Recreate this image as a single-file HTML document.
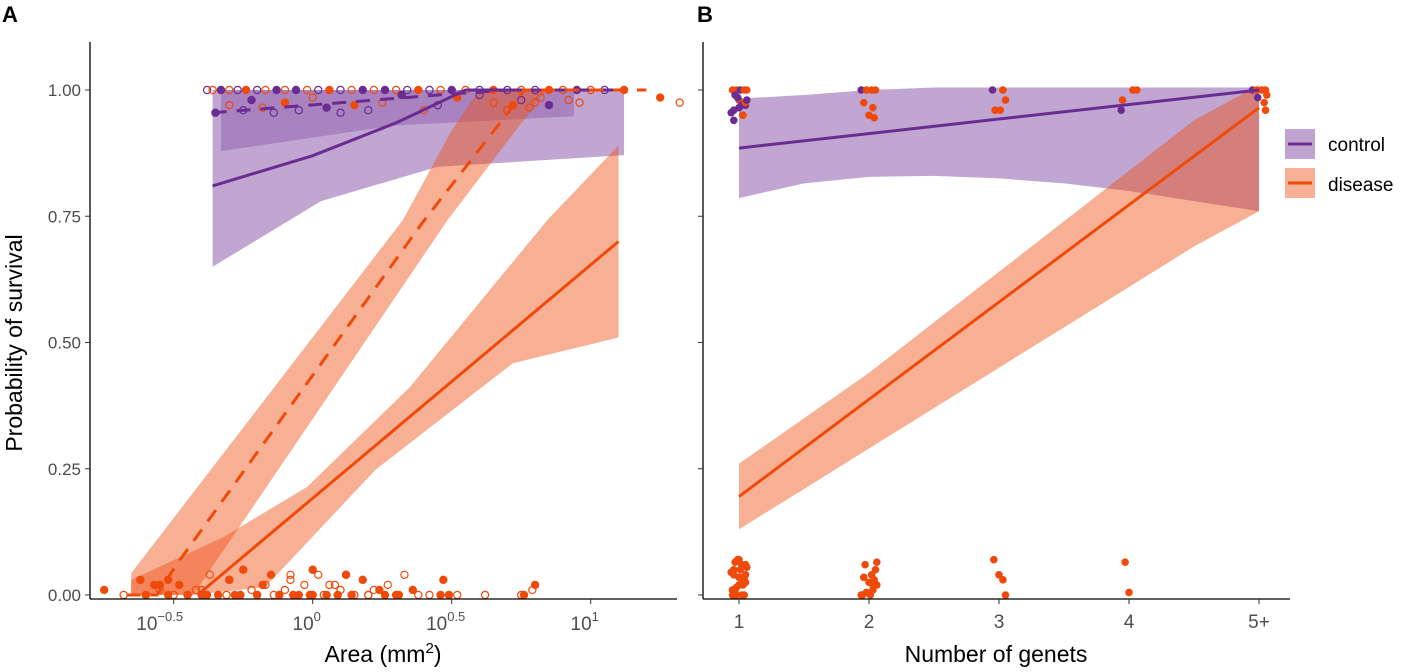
<!DOCTYPE html>
<html><head><meta charset="utf-8"><style>
body{margin:0;background:#fff}
svg{display:block;font-family:"Liberation Sans",Arial,sans-serif}
</style></head><body>
<svg id="chart" width="1413" height="672" viewBox="0 0 1413 672">
<text x="2" y="22" font-size="22" font-weight="bold">A</text>
<text x="697" y="22" font-size="22" font-weight="bold">B</text>
<g id="pa"></g>
<g id="pb"></g>
<text transform="translate(22,343) rotate(-90)" text-anchor="middle" font-size="23">Probability of survival</text>
<text x="383" y="662" text-anchor="middle" font-size="23">Area (mm<tspan dy="-9" font-size="15">2</tspan><tspan dy="9">)</tspan></text>
<text x="996" y="662" text-anchor="middle" font-size="23">Number of genets</text>
<g>
 <rect x="1285" y="129" width="30" height="30" fill="#c0a4d0"/>
 <line x1="1288" y1="144" x2="1312" y2="144" stroke="#6a2c91" stroke-width="3"/>
 <text x="1328" y="151" font-size="19">control</text>
 <rect x="1285" y="168" width="30" height="30" fill="#f7b096"/>
 <line x1="1288" y1="183" x2="1312" y2="183" stroke="#f04a0a" stroke-width="3"/>
 <text x="1328" y="191" font-size="19">disease</text>
</g>
</svg>
<script>
// ---------- data ----------
const yTicks=[0,0.25,0.5,0.75,1];
const yTickLabels=["0.00","0.25","0.50","0.75","1.00"];
const aTicks=[-0.5,0,0.5,1];
const aTickExp=["\u22120.5","0","0.5","1"];
const bCategories=[1,2,3,4,5];
const bTickLabels=["1","2","3","4","5+"];
// Panel A fitted curves (log10 area, prob)
const aCtrlSolidX=[-0.36,0.0,0.3,0.55,1.12];
const aCtrlSolidY=[0.81,0.87,0.935,1.0,1.0];
const aCtrlBandX=[-0.36,0.03,0.45,1.12];
const aCtrlBandLo=[0.65,0.78,0.848,0.871];
const aCtrlBandHi=[1.0,1.0,1.0,1.0];
const aCtrlDashX=[-0.36,0.45,0.7];
const aCtrlDashY=[0.955,0.99,1.0];
const aCtrlDashBandX=[-0.33,0.3,0.94];
const aCtrlDashLo=[0.879,0.93,0.948];
const aCtrlDashHi=[1.0,1.0,1.0];
const aDisDashX=[-0.67,-0.56,-0.49,0.393,0.695,0.76,1.2];
const aDisDashY=[0,0,0.06,0.736,0.95,1.0,1.0];
const aDisDashUpX=[-0.653,-0.653,0.325,0.5,0.6];
const aDisDashUpY=[0,0.043,0.743,0.92,1.0];
const aDisDashLoX=[-0.43,0.486,0.8,0.84];
const aDisDashLoY=[0,0.743,0.97,1.0];
const aDisSolidX=[-0.406,1.10];
const aDisSolidY=[0.004,0.70];
const aDisSolidUpX=[-0.653,-0.653,-0.32,-0.02,0.35,0.845,1.10];
const aDisSolidUpY=[0,0.03,0.115,0.214,0.412,0.743,0.89];
const aDisSolidLoX=[-0.43,-0.17,0.226,0.72,1.10];
const aDisSolidLoY=[0,0.016,0.248,0.459,0.51];
// Panel A points
const aPtX=[-0.38,-0.36,-0.33,-0.3,-0.27,-0.24,-0.2,-0.17,-0.13,-0.1,-0.06,-0.02,0.02,0.06,0.1,0.14,0.18,0.22,0.26,0.3,0.34,0.38,0.42,0.46,0.5,0.55,0.6,0.65,0.7,0.75,0.8,0.85,0.9,0.95,1.0,1.05,1.12,
 -0.35,-0.3,-0.25,-0.22,-0.18,-0.14,-0.1,-0.05,0.0,0.05,0.1,0.15,0.2,0.25,0.32,0.4,0.45,0.52,0.6,0.65,0.7,0.72,0.75,0.78,0.8,0.82,0.85,0.92,0.96,1.25,1.32,
 -0.75,-0.68,-0.62,-0.6,-0.57,-0.55,-0.52,-0.5,-0.48,-0.45,-0.42,-0.4,-0.37,-0.34,-0.3,-0.28,-0.25,-0.22,-0.2,-0.17,-0.15,-0.12,-0.1,-0.08,-0.05,-0.03,0.0,0.02,0.05,0.08,0.1,0.12,0.15,0.18,0.2,0.24,0.27,0.3,0.33,0.36,0.42,0.47,0.49,0.52,0.62,0.76,0.79,0.8,
 -0.6,-0.52,-0.45,-0.38,-0.31,-0.26,-0.2,-0.14,-0.07,-0.01,0.04,0.09,0.14,0.2,0.26,0.31,0.38,0.46,0.75,-0.55,-0.4,-0.3,-0.18,-0.08,0.0,0.06,0.12,0.22];
const aPtY=[1,1,1,1,1,1,1,1,1,1,1,1,1,1,1,1,1,1,1,1,1,1,1,1,1,1,1,1,1,1,1,1,1,1,1,1,1,
 0.955,0.97,0.96,0.98,0.965,0.955,0.975,0.96,0.985,0.965,0.955,0.97,0.96,0.975,0.99,0.96,0.97,0.985,0.99,0.975,0.96,0.97,0.98,0.965,0.975,0.985,0.97,0.98,0.975,0.985,0.975,
 0.01,0.0,0.03,0.0,0.02,0.01,0.03,0.0,0.02,0.0,0.01,0.0,0.04,0.0,0.03,0.0,0.05,0.01,0.0,0.02,0.04,0.0,0.01,0.03,0.0,0.02,0.0,0.04,0.0,0.02,0.01,0.04,0.0,0.03,0.0,0.01,0.02,0.0,0.04,0.01,0.0,0.03,0.0,0.0,0.0,0.0,0.01,0.02,
 0.0,0.0,0.0,0.0,0.0,0.0,0.0,0.0,0.0,0.0,0.0,0.0,0.0,0.0,0.0,0.0,0.0,0.0,0.0,0.02,0.01,0.03,0.02,0.04,0.05,0.02,0.04,0.01];
const aPtGroup=["c","d","c","d","c","d","c","d","c","d","c","d","c","d","c","d","c","d","c","d","c","d","c","d","c","d","c","d","c","d","c","d","d","c","d","c","d",
 "c","d","c","c","d","c","d","c","d","c","c","d","c","d","c","d","c","d","c","d","d","d","c","d","d","d","c","d","d","d","d",
 "d","d","d","d","d","d","d","d","d","d","d","d","d","d","d","d","d","d","d","d","d","d","d","d","d","d","d","d","d","d","d","d","d","d","d","d","d","d","d","d","d","d","d","d","d","d","d","d",
 "d","d","d","d","d","d","d","d","d","d","d","d","d","d","d","d","d","d","d","d","d","d","d","d","d","d","d","d"];
const aPtOpen=[1,1,0,1,1,0,1,1,0,1,0,1,1,0,1,1,0,1,0,1,1,0,1,1,0,1,1,0,1,1,1,0,1,0,1,1,0,
 0,1,1,0,1,1,0,1,1,0,1,0,1,1,0,1,1,0,1,1,1,0,1,1,1,1,0,1,1,0,1,
 0,1,0,1,0,1,0,1,0,0,1,0,1,0,1,0,0,1,0,1,0,0,1,1,0,1,0,1,0,1,1,0,1,0,1,0,1,0,1,0,1,0,0,1,1,0,1,0,
 0,0,0,0,1,0,0,1,0,0,1,0,0,1,0,0,1,0,1,0,1,0,0,1,0,1,0,1];
// Panel B curves
const bLineX=[1,5];
const bCtrlLineY=[0.885,1.0];
const bDisLineY=[0.195,0.965];
const bBandX=[1,1.5,2,2.5,3,3.5,4,4.5,5];
const bCtrlLo=[0.786,0.815,0.828,0.83,0.825,0.815,0.80,0.78,0.76];
const bCtrlHi=[0.983,0.99,1.0,1.005,1.005,1.005,1.005,1.005,1.005];
const bDisLo=[0.13,0.21,0.29,0.37,0.45,0.53,0.61,0.69,0.76];
const bDisHi=[0.26,0.35,0.44,0.54,0.64,0.74,0.84,0.94,1.01];
// Panel B points
const bPtX=[1,1,1,1,1,1,1,1,1,1,1,1,1,1,1,1,1,1,2,2,2,2,2,2,2,2,3,3,3,3,3,4,4,4,4,5,5,5,5,5,5,5,5,
 1,1,1,1,1,1,1,1,1,1,1,1,1,1,1,1,1,1,1,1,1,1,1,1,2,2,2,2,2,2,2,2,2,2,2,2,2,2,3,3,3,3,4,4];
const bPtJit=[-0.05,-0.02,0.01,0.04,0.06,-0.03,0.0,0.05,-0.04,0.03,-0.06,0.02,0.05,-0.01,-0.04,0.03,0.0,0.06,-0.06,-0.02,0.02,0.05,-0.04,0.03,0.0,0.04,-0.05,0.03,0.05,-0.03,0.01,-0.06,-0.05,0.03,0.06,-0.05,-0.02,0.02,0.05,0.06,0.04,-0.01,0.05,
 -0.05,-0.03,0.0,0.03,0.05,-0.04,0.02,-0.01,0.04,-0.02,0.05,0.0,-0.06,0.06,-0.03,0.02,-0.05,0.04,0.01,-0.02,0.03,-0.04,0.05,0.0,-0.06,-0.02,0.03,0.06,0.0,0.04,-0.04,0.02,0.05,-0.03,0.06,0.01,-0.05,0.03,-0.04,0.0,0.03,0.05,-0.03,0.0];
const bPtY=[1.0,1.0,1.0,1.0,1.0,0.99,0.98,0.97,0.96,0.95,0.955,0.97,0.975,0.985,0.94,0.95,0.965,0.98,1.0,1.0,1.0,1.0,0.975,0.965,0.95,0.945,1.0,1.0,0.98,0.96,0.96,0.96,0.98,1.0,1.0,1.0,1.0,1.0,1.0,0.99,0.975,0.985,0.96,
 0.0,0.01,0.02,0.03,0.04,0.05,0.06,0.07,0.0,0.015,0.025,0.035,0.045,0.055,0.065,0.0,0.01,0.03,0.05,0.0,0.02,0.04,0.06,0.07,0.0,0.005,0.01,0.02,0.025,0.03,0.035,0.04,0.05,0.06,0.065,0.0,0.0,0.02,0.07,0.04,0.03,0.0,0.065,0.005];
const bPtGroup=["d","d","c","d","d","c","d","c","c","d","c","c","d","c","c","d","c","c","c","d","d","d","d","d","d","d","c","d","d","d","d","c","d","d","d","c","d","d","d","d","d","c","d",
 "d","d","d","d","d","d","d","d","d","d","d","d","d","d","d","d","d","d","d","d","d","d","d","d","d","d","d","d","d","d","d","d","d","d","d","d","d","d","d","d","d","d","d","d"];
// ---------- rendering ----------
const NS="http://www.w3.org/2000/svg";
const PUR="#6a2c91",ORG="#f04a0a";
function mk(p,tag,a){const e=document.createElementNS(NS,tag);for(const k in a)e.setAttribute(k,a[k]);p.appendChild(e);return e;}
const yS=v=>595-v*505;
const xA=l=>312.7+278*l;
const xB=n=>739+130*(n-1);
function band(p,xs,lo,hi,xf,fill,name){
  let d="M"+xs.map((x,i)=>xf(x)+","+yS(hi[i])).join("L");
  for(let i=xs.length-1;i>=0;i--)d+="L"+xf(xs[i])+","+yS(lo[i]);
  const e=mk(p,"path",{d:d+"Z",fill:fill});
  
  
}
function band2(p,ux,uy,lx,ly,xf,fill,name){
  let d="M"+ux.map((x,i)=>xf(x)+","+yS(uy[i])).join("L");
  for(let i=lx.length-1;i>=0;i--)d+="L"+xf(lx[i])+","+yS(ly[i]);
  const e=mk(p,"path",{d:d+"Z",fill:fill});
  
  
}
function line(p,xs,ys,xf,col,dash,name){
  const e=mk(p,"polyline",{points:xs.map((x,i)=>xf(x)+","+yS(ys[i])).join(" "),fill:"none",stroke:col,"stroke-width":3,"stroke-dasharray":dash||"none"});
  
  
}
function axes(p,x0,x1){
  mk(p,"line",{x1:x0,y1:42,x2:x0,y2:599,stroke:"#000","stroke-width":1.3});
  mk(p,"line",{x1:x0,y1:599,x2:x1,y2:599,stroke:"#000","stroke-width":1.3});
  yTicks.forEach((v,i)=>{
    mk(p,"line",{x1:x0-5,y1:yS(v),x2:x0,y2:yS(v),stroke:"#333"});
  });
}
// Panel A
const pa=document.getElementById("pa");
band(pa,aCtrlBandX,aCtrlBandLo,aCtrlBandHi,xA,"rgba(106,44,145,0.42)","control-solid-band");
band(pa,aCtrlDashBandX,aCtrlDashLo,aCtrlDashHi,xA,"rgba(106,44,145,0.28)","control-dashed-band");
band2(pa,aDisDashUpX,aDisDashUpY,aDisDashLoX,aDisDashLoY,xA,"rgba(240,80,20,0.45)","disease-dashed-band");
band2(pa,aDisSolidUpX,aDisSolidUpY,aDisSolidLoX,aDisSolidLoY,xA,"rgba(240,80,20,0.45)","disease-solid-band");
aPtX.forEach((x,i)=>{
  const col=aPtGroup[i]==="c"?PUR:ORG;
  const c=mk(pa,"circle",{cx:xA(x),cy:yS(aPtY[i]),r:3.6,fill:aPtOpen[i]?"none":col,stroke:col,"stroke-width":1.2});
  
  
});
line(pa,aCtrlSolidX,aCtrlSolidY,xA,PUR,null,"control-solid-line");
line(pa,aCtrlDashX,aCtrlDashY,xA,PUR,"14 10","control-dashed-line");
line(pa,aDisDashX,aDisDashY,xA,ORG,"14 10","disease-dashed-line");
line(pa,aDisSolidX,aDisSolidY,xA,ORG,null,"disease-solid-line");
axes(pa,90,677);
yTicks.forEach((v,i)=>{
  const t=mk(pa,"text",{x:81,y:yS(v)+6,"text-anchor":"end","font-size":17,fill:"#4d4d4d"});
  t.textContent=yTickLabels[i];
  
  
});
aTicks.forEach((v,i)=>{
  mk(pa,"line",{x1:xA(v),y1:599,x2:xA(v),y2:604,stroke:"#333"});
  const t=mk(pa,"text",{x:xA(v)-(i===0?14:6),y:630,"text-anchor":"middle","font-size":19,fill:"#4d4d4d"});
  
  
  t.innerHTML='10<tspan dy="-9" font-size="13">'+aTickExp[i]+'</tspan>';
});
// Panel B
const pb=document.getElementById("pb");
band(pb,bBandX,bCtrlLo,bCtrlHi,xB,"rgba(106,44,145,0.42)","control-band-b");
band(pb,bBandX,bDisLo,bDisHi,xB,"rgba(240,80,20,0.45)","disease-band-b");
bPtX.forEach((x,i)=>{
  const col=bPtGroup[i]==="c"?PUR:ORG;
  const c=mk(pb,"circle",{cx:xB(x+bPtJit[i]),cy:yS(bPtY[i]),r:3.8,fill:col});
  
  
});
line(pb,bLineX,bCtrlLineY,xB,PUR,null,"control-line-b");
line(pb,bLineX,bDisLineY,xB,ORG,null,"disease-line-b");
axes(pb,703,1290);
bCategories.forEach((v,i)=>{
  mk(pb,"line",{x1:xB(v),y1:599,x2:xB(v),y2:604,stroke:"#333"});
  const t=mk(pb,"text",{x:xB(v),y:628,"text-anchor":"middle","font-size":19,fill:"#4d4d4d"});
  t.textContent=bTickLabels[i];
  
  
});
</script>
</body></html>
